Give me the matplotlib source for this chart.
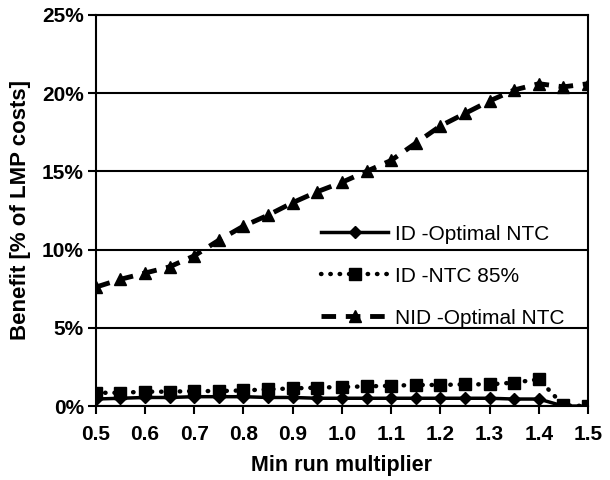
import numpy as np
import matplotlib
matplotlib.use("Agg")
import matplotlib.pyplot as plt
from matplotlib.ticker import FuncFormatter

plt.rcParams['font.family'] = ['Liberation Sans', 'DejaVu Sans']

# min run multiplier, 0.5 .. 1.5 in steps of 0.05
mult = [0.50, 0.55, 0.60, 0.65, 0.70, 0.75, 0.80, 0.85, 0.90, 0.95, 1.00,
        1.05, 1.10, 1.15, 1.20, 1.25, 1.30, 1.35, 1.40, 1.45, 1.50]

# benefit in % of LMP costs
id_optimal = [0.45, 0.50, 0.55, 0.55, 0.60, 0.60, 0.60, 0.55, 0.55, 0.50, 0.50,
              0.50, 0.50, 0.50, 0.50, 0.50, 0.50, 0.45, 0.45, 0.00, 0.00]
id_ntc85 = [0.85, 0.85, 0.92, 0.92, 0.96, 0.96, 1.00, 1.07, 1.13, 1.18, 1.22,
            1.26, 1.30, 1.35, 1.35, 1.39, 1.39, 1.50, 1.71, 0.05, 0.00]
nid_optimal = [7.6, 8.1, 8.5, 8.9, 9.6, 10.6, 11.5, 12.2, 13.0, 13.7, 14.3,
               15.0, 15.7, 16.8, 17.9, 18.7, 19.5, 20.2, 20.6, 20.4, 20.6]

labels = ['ID -Optimal NTC', 'ID -NTC 85%', 'NID -Optimal NTC']

fig = plt.figure(figsize=(6.1, 4.8), dpi=100)
ax = fig.add_axes([0.157, 0.154, 0.807, 0.815])

ax.plot(mult, id_optimal, color='black', lw=2.5, marker='D', ms=6, label=labels[0])
ax.plot(mult, id_ntc85, color='black', lw=3.2, ls=(0, (0.1, 2.0)), dash_capstyle='round',
        marker='s', ms=8, label=labels[1])
ax.plot(mult, nid_optimal, color='black', lw=3.5, ls=(0, (3, 2)), marker='^', ms=9,
        label=labels[2])

ax.set_xlim(0.5, 1.5)
ax.set_ylim(0, 25)
ax.set_xticks(np.arange(0.5, 1.51, 0.1))
ax.set_yticks(np.arange(0, 26, 5))
ax.xaxis.set_major_formatter(FuncFormatter(lambda v, p: f'{v:.1f}'))
ax.yaxis.set_major_formatter(FuncFormatter(lambda v, p: f'{v:.0f}%'))
ax.yaxis.grid(True, color='black', lw=1.5)
ax.set_axisbelow(True)
for s in ax.spines.values():
    s.set_linewidth(1.5)
ax.tick_params(direction='out', length=5.5, width=1.5, labelsize=15)
ax.tick_params(axis='x', pad=8)
ax.tick_params(axis='y', pad=3)
for t in ax.get_xticklabels() + ax.get_yticklabels():
    t.set_fontweight('bold')

ax.set_xlabel('Min run multiplier', fontsize=15.5, fontweight='bold', labelpad=8)
ax.set_ylabel('Benefit [% of LMP costs]', fontsize=16, fontweight='bold', labelpad=8)

ax.legend(loc='center left', bbox_to_anchor=(0.42, 0.332), frameon=False, fontsize=15,
          handlelength=3.2, handletextpad=0.35, labelspacing=1.1)

fig.savefig('out.png', dpi=100)
